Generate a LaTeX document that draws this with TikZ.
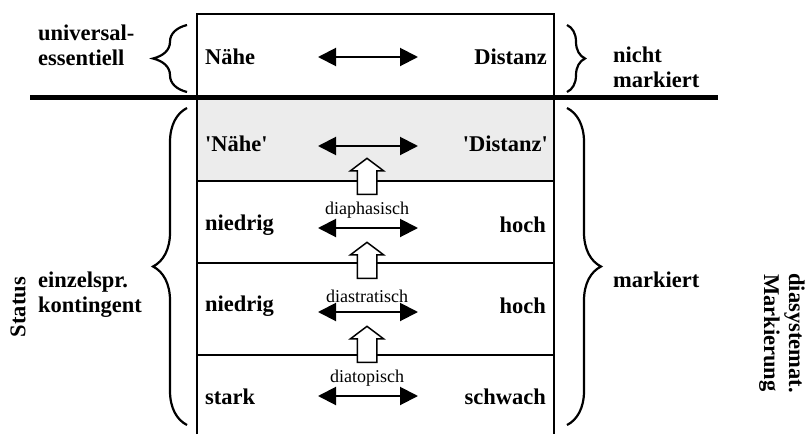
\documentclass[tikz,border=0pt]{standalone}
\usepackage{fontspec}
\setmainfont{Liberation Serif}
\usetikzlibrary{arrows.meta}
\usetikzlibrary{shapes.arrows}
\usetikzlibrary{decorations.pathreplacing}

\tikzset{
  lbl/.style={font=\fontsize{22.5}{25}\selectfont\bfseries, inner sep=0pt},
  dim/.style={font=\fontsize{18}{20}\selectfont, inner sep=0pt},
  rule/.style={line width=2pt},
  both/.style={{Triangle[length=18pt,width=18pt]}-{Triangle[length=18pt,width=18pt]}, line width=2pt},
  lift/.style={single arrow, draw, fill=white, line width=1.5pt, rotate=90,
    minimum height=36pt, inner xsep=0pt, inner ysep=9pt,
    single arrow head extend=7pt, single arrow tip angle=106},
  curly/.style={decorate, decoration={brace,amplitude=#1}, line width=2.2pt},
}

\begin{document}
\begin{tikzpicture}[x=1pt,y=-1pt]
\useasboundingbox (0,0) rectangle (809,434);
% table
\fill [gray!15] (197,97) rectangle (554,181);
\draw [rule] (197,434) -- (197,14) -- (554,14) -- (554,434);
\foreach \y in {181,263,355}
  \draw [rule] (197,\y) -- (554,\y);
\draw [line width=5pt] (30,97) -- (718,97);

% rows
\node (n1) [lbl,anchor=west] at (205,57) {Nähe};
\node (d1) [lbl,anchor=east] at (547,57) {Distanz};
\node (n2) [lbl,anchor=west] at (205,144) {\textquotesingle Nähe\textquotesingle};
\node (d2) [lbl,anchor=east] at (548,144) {\textquotesingle Distanz\textquotesingle};
\node (n3) [lbl,anchor=west] at (205,225) {niedrig};
\node (d3) [lbl,anchor=east] at (546,225) {hoch};
\node (n4) [lbl,anchor=west] at (205,306) {niedrig};
\node (d4) [lbl,anchor=east] at (546,306) {hoch};
\node (n5) [lbl,anchor=west] at (205,397) {stark};
\node (d5) [lbl,anchor=east] at (546,397) {schwach};

\foreach \y [count=\i] in {57,146,228,312,396} {
  \coordinate (l\i) at (318,\y);
  \coordinate (r\i) at (418,\y);
  \draw [both] (l\i) -- (r\i);
}

\node (t3) [dim] at (367,210) {diaphasisch};
\node (t4) [dim] at (367,296) {diastratisch};
\node (t5) [dim] at (367,378) {diatopisch};

\node (b3) [lift] at (367,180) {};
\node (b4) [lift] at (367,264) {};
\node (b5) [lift] at (367,348) {};

% braces
\draw [curly=34] (187,92) -- (187,25);
\draw [curly=18] (567,25) -- (567,92);
\draw [curly=34] (187,425) -- (187,108);
\draw [curly=34] (567,108) -- (567,425);

% outer labels
\node (univ) [lbl,align=left,anchor=west] at (38,45) {universal-\\essentiell};
\node (nicht) [lbl,align=left,anchor=west] at (613,67) {nicht\\markiert};
\node (einzel) [lbl,align=left,anchor=west] at (38,295) {einzelspr.\\kontingent};
\node (mark) [lbl,anchor=west] at (613,280) {markiert};
\node (status) [lbl,rotate=90] at (18,307) {Status};
\node (dias) [lbl,align=center,rotate=-90] at (782,333) {diasystemat.\\Markierung};
\end{tikzpicture}
\end{document}
